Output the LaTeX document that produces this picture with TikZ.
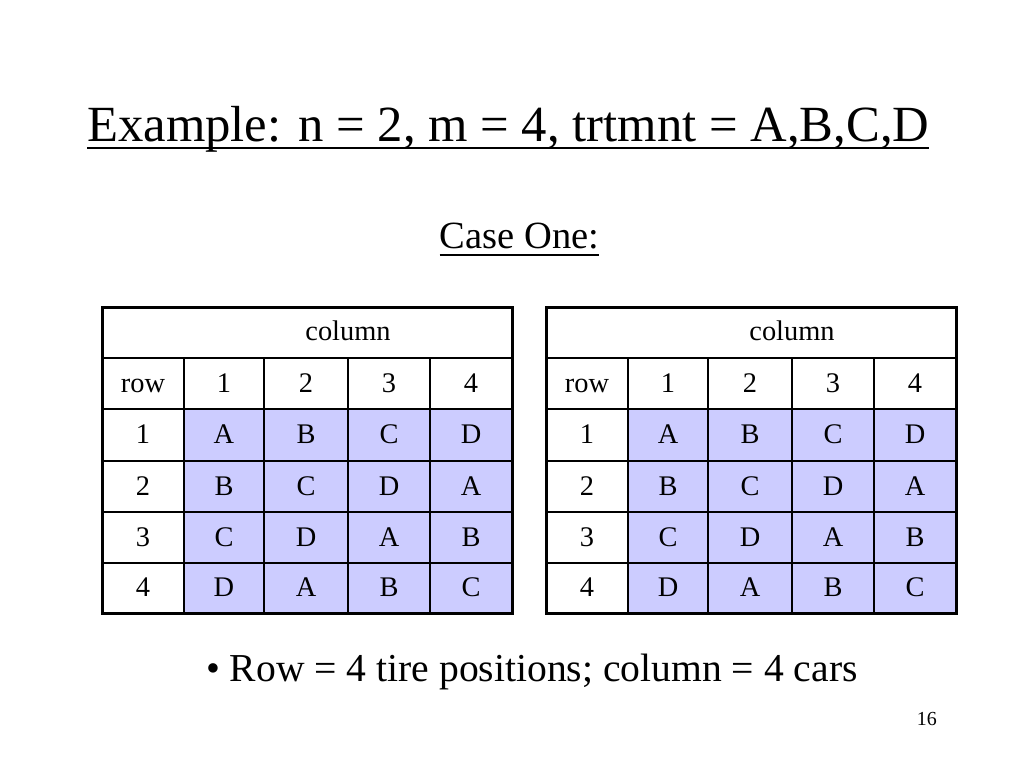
\documentclass[tikz,border=0pt]{standalone}
\usepackage{fontspec}
\setmainfont{Liberation Serif}
\definecolor{cellblue}{HTML}{CCCCFF}
\begin{document}
\begin{tikzpicture}[x=1pt, y=-1pt,
        txt/.style={inner sep=0pt},
        cell/.style={inner sep=0pt, anchor=base, font=\fontsize{28.4}{30}\selectfont},
        grid/.style={black, line width=1.3pt},
        frame/.style={black, line width=3pt},
        rule/.style={black, line width=2.2pt}
    ]
    \useasboundingbox (0,0) rectangle (1024,768);
    % Headings
    \node[txt, anchor=base west, font=\fontsize{50.7}{56}\selectfont] (title) at (87,141.7) {Example: n = 2, m = 4, trtmnt = A,B,C,D};
    \draw[rule] ([yshift=-6.6pt]title.base west) -- ([yshift=-6.6pt]title.base east);
    \node[txt, anchor=base, font=\fontsize{38.5}{42}\selectfont] (case) at (519.5,248.3) {Case One:};
    \draw[rule, line width=2pt] ([yshift=-6.7pt]case.base west) -- ([yshift=-6.7pt]case.base east);
    % Tables
    \foreach \tb/\dx in {L/0, R/444} {
        \begin{scope}[xshift=\dx pt]
            \fill[cellblue] (184,409) rectangle (512,613);
            \foreach \y in {358,409,461,512,563} \draw[grid] (102,\y) -- (512,\y);
            \foreach \x in {184,264,348,430} \draw[grid] (\x,358) -- (\x,613);
            \draw[frame] (102,307) rectangle (512,613);
            \node[cell] (\tb-head) at (348,340.5) {column};
            \node[cell] (\tb-row) at (143,392) {row};
            \foreach \n/\x in {1/224, 2/306, 3/389, 4/471}
                \node[cell] (\tb-c\n) at (\x,392) {\n};
            \foreach \n/\y/\a/\b/\c/\d in {1/443.5/A/B/C/D, 2/495/B/C/D/A, 3/546/C/D/A/B, 4/596.5/D/A/B/C} {
                \node[cell] (\tb-r\n) at (143,\y) {\n};
                \node[cell] (\tb-\n-1) at (224,\y) {\a};
                \node[cell] (\tb-\n-2) at (306,\y) {\b};
                \node[cell] (\tb-\n-3) at (389,\y) {\c};
                \node[cell] (\tb-\n-4) at (471,\y) {\d};
            }
        \end{scope}
    }
    % Note and page number
    \node[txt, anchor=base west, font=\fontsize{39.6}{44}\selectfont] (note) at (206,681.7) {\textbullet{} Row = 4 tire positions; column = 4 cars};
    \node[txt, anchor=base east, font=\fontsize{19.9}{22}\selectfont] (page) at (937,725) {16};
\end{tikzpicture}
\end{document}
